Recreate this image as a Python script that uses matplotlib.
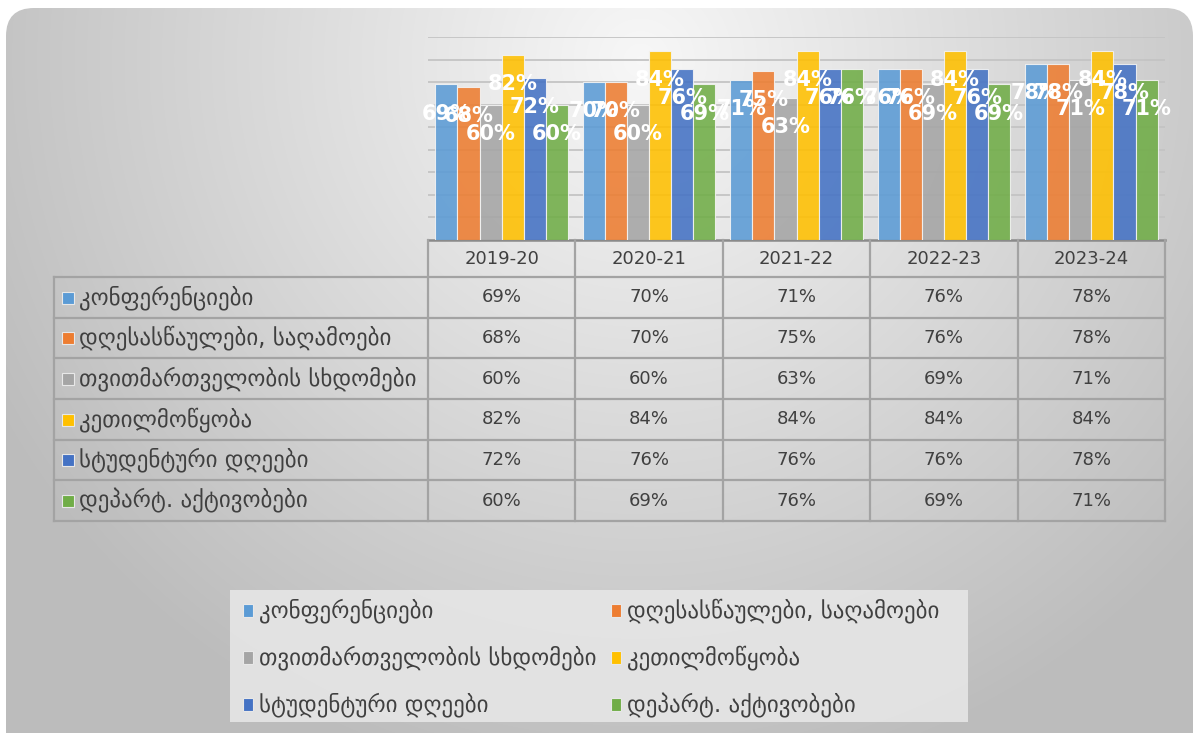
import numpy as np
import matplotlib
matplotlib.use("Agg")
import matplotlib.pyplot as plt
from matplotlib.patches import FancyBboxPatch, Rectangle

plt.rcParams['font.family'] = ['DejaVu Sans']

years = ['2019-20', '2020-21', '2021-22', '2022-23', '2023-24']
series_names = ['კონფერენციები', 'დღესასწაულები, საღამოები',
                'თვითმართველობის სხდომები', 'კეთილმოწყობა',
                'სტუდენტური დღეები', 'დეპარტ. აქტივობები']
conferences = [69, 70, 71, 76, 78]
holidays = [68, 70, 75, 76, 78]
self_gov = [60, 60, 63, 69, 71]
improvement = [82, 84, 84, 84, 84]
student_days = [72, 76, 76, 76, 78]
dept_activities = [60, 69, 76, 69, 71]
values = [conferences, holidays, self_gov, improvement, student_days, dept_activities]
colors = ['#5B9BD5', '#ED7D31', '#A5A5A5', '#FFC000', '#4472C4', '#70AD47']

W, H = 1195, 733
fig = plt.figure(figsize=(W / 100, H / 100), dpi=100)
fig.patch.set_facecolor('white')

# фон-панель в пикселях
bg = fig.add_axes([0, 0, 1, 1])
bg.set_xlim(0, W)
bg.set_ylim(H, 0)
bg.axis('off')
yy, xx = np.mgrid[0:H, 0:W]
d = np.sqrt(((xx - 640) / 700.0) ** 2 + ((yy - 60) / 700.0) ** 2)
shade = np.clip(0.97 - 0.22 * d, 0.74, 0.97)
img = bg.imshow(np.dstack([shade] * 3), extent=(0, W, H, 0), zorder=0)
panel = FancyBboxPatch((6, 8), 1187, 760, boxstyle="round,pad=0,rounding_size=28",
                       facecolor='none', edgecolor='none', transform=bg.transData)
bg.add_patch(panel)
img.set_clip_path(panel)

# область столбцов
x0, x1, ytop, ybot = 428, 1165, 37, 240
ax = fig.add_axes([x0 / W, 1 - ybot / H, (x1 - x0) / W, (ybot - ytop) / H])
ax.set_facecolor('none')
ax.set_xlim(-0.5, 4.5)
ax.set_ylim(0, 90)
ax.set_yticks(np.arange(10, 91, 10))
ax.yaxis.grid(True, color='#c4c4c4', linewidth=1.3)
ax.set_axisbelow(True)
ax.tick_params(left=False, bottom=False, labelleft=False, labelbottom=False)
for s in ax.spines.values():
    s.set_visible(False)

x = np.arange(len(years))
bw = 0.15
for i, (vals, c) in enumerate(zip(values, colors)):
    pos = x + (i - 2.5) * bw
    ax.bar(pos, vals, width=bw, color=c, alpha=0.88, edgecolor='#f4f4f4', linewidth=0.8)
for i, vals in enumerate(values):
    pos = x + (i - 2.5) * bw
    for p, v in zip(pos, vals):
        ax.annotate(f'{v}%', (p, v), xytext=(0, -21), textcoords='offset points',
                    ha='center', va='center', color='white', fontsize=15,
                    fontweight='bold', zorder=5)

# таблица данных
line_c = '#a3a3a3'
col_w = (x1 - x0) / len(years)
row_tops = [240, 277, 318, 358, 399, 440, 480, 521]
tl = 54
lw = 1.6
geo_fs = 16.5
bg.plot([x0, x1], [240, 240], color='#8a8a8a', lw=1.8, zorder=3)
for j in range(len(years) + 1):
    xv = x0 + j * col_w
    bg.plot([xv, xv], [240, 521], color=line_c, lw=lw, zorder=3)
for yv in row_tops[1:]:
    bg.plot([tl, x1], [yv, yv], color=line_c, lw=lw, zorder=3)
bg.plot([tl, tl], [277, 521], color=line_c, lw=lw, zorder=3)
for j, yr in enumerate(years):
    bg.text(x0 + (j + 0.5) * col_w, (240 + 277) / 2 + 1, yr, ha='center', va='center',
            fontsize=13, color='#404040', zorder=4)
for i, (name, vals, c) in enumerate(zip(series_names, values, colors)):
    yc = (row_tops[i + 1] + row_tops[i + 2]) / 2
    bg.add_patch(Rectangle((62, yc - 6), 12, 12, facecolor=c, edgecolor='#e8e8e8',
                           lw=0.8, zorder=4))
    bg.text(79, yc, name, ha='left', va='center', fontsize=geo_fs, color='#404040', zorder=4)
    for j, v in enumerate(vals):
        bg.text(x0 + (j + 0.5) * col_w, yc, f'{v}%', ha='center', va='center',
                fontsize=13, color='#404040', zorder=4)

# легенда
bg.add_patch(Rectangle((230, 590), 738, 132, facecolor='#e6e6e6', edgecolor='none',
                       alpha=0.9, zorder=2))
leg_pos = [(243, 611), (611, 611), (243, 658), (611, 658), (243, 705), (611, 705)]
for (lx, ly), name, c in zip(leg_pos, series_names, colors):
    bg.add_patch(Rectangle((lx, ly - 7), 10, 13, facecolor=c, edgecolor='#e8e8e8',
                           lw=0.8, zorder=4))
    bg.text(lx + 16, ly, name, ha='left', va='center', fontsize=geo_fs, color='#404040', zorder=4)

fig.savefig('out.png', dpi=100)
